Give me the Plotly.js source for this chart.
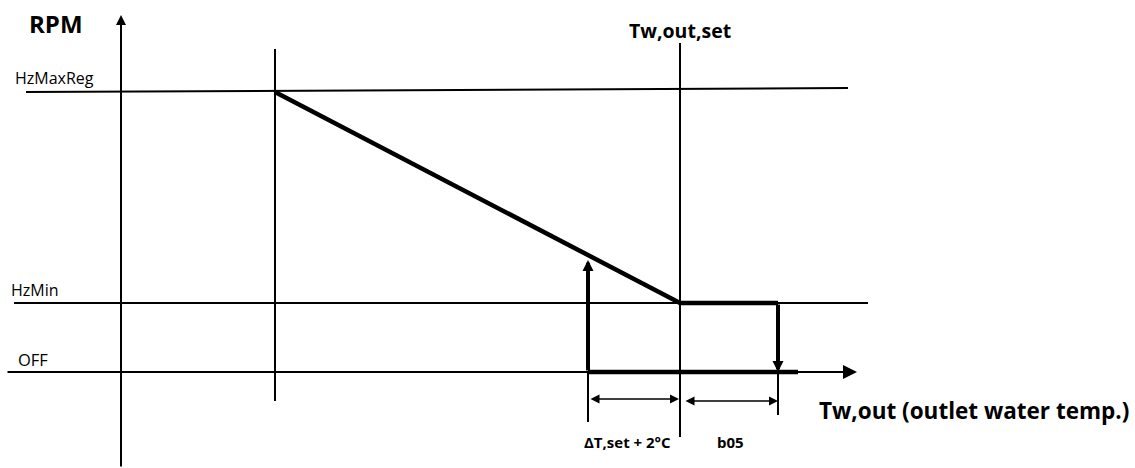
<!DOCTYPE html>
<html>
<head>
<meta charset="utf-8">
<script src="https://cdn.plot.ly/plotly-3.0.1.min.js"></script>
<style>html,body{margin:0;padding:0;background:#fff;}#chart{width:1135px;height:468px;}</style>
</head>
<body>
<div id="chart"></div>
<script>
// ---- schematic data ----
// RPM levels (vertical units; OFF = 0)
const levelNames = ['OFF', 'HzMin', 'HzMaxReg'];
const levelValues = [0, 69, 280];
// temperature points (horizontal units; RPM axis = 0)
const tempNames = ['rampStart', 'offPoint', 'setPoint', 'b05End'];
const tempValues = [154, 467, 559, 657];
// text labels
const yLevelLabels = ['OFF', 'HzMin', 'HzMaxReg'];
const axisTitles = ['RPM', 'Tw,out (outlet water temp.)'];
const setLabel = 'Tw,out,set';
const bandLabels = ['ΔT,set + 2°C', 'b05'];

const L = Object.fromEntries(levelNames.map((n, i) => [n, levelValues[i]]));
const T = Object.fromEntries(tempNames.map((n, i) => [n, tempValues[i]]));

// ---- geometry / style ----
const X0 = -121, X1 = 1014, Y0 = -96, Y1 = 372;
const thin = {color: '#000', width: 2};
const thick = {color: '#000', width: 4.5};
const FONT = '"Open Sans", "Noto Sans", sans-serif';

function seg(x0, y0, x1, y1, line) {
  return {type: 'line', xref: 'x', yref: 'y', x0, y0, x1, y1, line, layer: 'above'};
}

const shapes = [
  // reference level lines
  seg(-95, L.HzMaxReg, 727, L.HzMaxReg + 4, thin),
  seg(-107, L.HzMin, 747, L.HzMin, thin),
  // verticals
  seg(T.rampStart, 323, T.rampStart, -29, thin),
  seg(T.setPoint, 329, T.setPoint, -65, thin),
  seg(T.offPoint, L.OFF, T.offPoint, -50, thin),
  seg(T.b05End, L.OFF, T.b05End, -43, thin),
  // control curve
  seg(T.rampStart, L.HzMaxReg, T.setPoint, L.HzMin, thick),
  seg(T.setPoint, L.HzMin, T.b05End, L.HzMin, thick),
  seg(T.offPoint, L.OFF, 677, L.OFF, thick)
];

function arrow(x, y, ax, ay, width, size, side) {
  return {x, y, ax, ay, xref: 'x', yref: 'y', axref: 'x', ayref: 'y', text: '',
    showarrow: true, arrowhead: 2, startarrowhead: 2, arrowside: side || 'end',
    arrowsize: size, startarrowsize: size, arrowwidth: width, arrowcolor: '#000', standoff: 0, startstandoff: 0};
}
function label(x, y, text, size, bold, xanchor) {
  return {x, y, xref: 'x', yref: 'y', text: bold ? '<b>' + text + '</b>' : text, showarrow: false,
    xanchor: xanchor || 'left', yanchor: 'middle',
    font: {family: FONT, size, color: '#000'}};
}

const annotations = [
  // axes
  arrow(0, 357, 0, -96, 2, 1.0),
  arrow(736, L.OFF, -115, L.OFF, 2, 1.4),
  // on/off arrows
  arrow(T.offPoint, 112, T.offPoint, L.OFF, 4, 0.55),
  arrow(T.b05End, L.OFF, T.b05End, L.HzMin, 4, 0.55),
  // dimension arrows
  arrow(T.setPoint - 1, -27, T.offPoint + 1, -27, 1.5, 1.2, 'end+start'),
  arrow(T.b05End, -29, T.setPoint + 4, -29, 1.5, 1.2, 'end+start'),
  // labels
  label(-65, 349, axisTitles[0], 24, true, 'center'),
  label(-108, 294, yLevelLabels[2], 16, false),
  label(-112, 82, yLevelLabels[1], 16, false),
  label(-105, 13, yLevelLabels[0], 16.5, false),
  label(T.setPoint, 342, setLabel, 19.5, true, 'center'),
  label(696, -38, axisTitles[1], 22.5, true),
  label(506, -70, bandLabels[0], 15, true, 'center'),
  label(609, -70, bandLabels[1], 15, true, 'center')
];

const layout = {
  width: 1135, height: 468,
  margin: {l: 0, r: 0, t: 0, b: 0, pad: 0},
  paper_bgcolor: '#fff', plot_bgcolor: '#fff',
  showlegend: false,
  xaxis: {range: [X0, X1], visible: false, fixedrange: true},
  yaxis: {range: [Y0, Y1], visible: false, fixedrange: true},
  shapes, annotations
};

Plotly.newPlot('chart', [{x: [], y: [], type: 'scatter', mode: 'lines'}], layout, {staticPlot: true, displayModeBar: false});
</script>
</body>
</html>
